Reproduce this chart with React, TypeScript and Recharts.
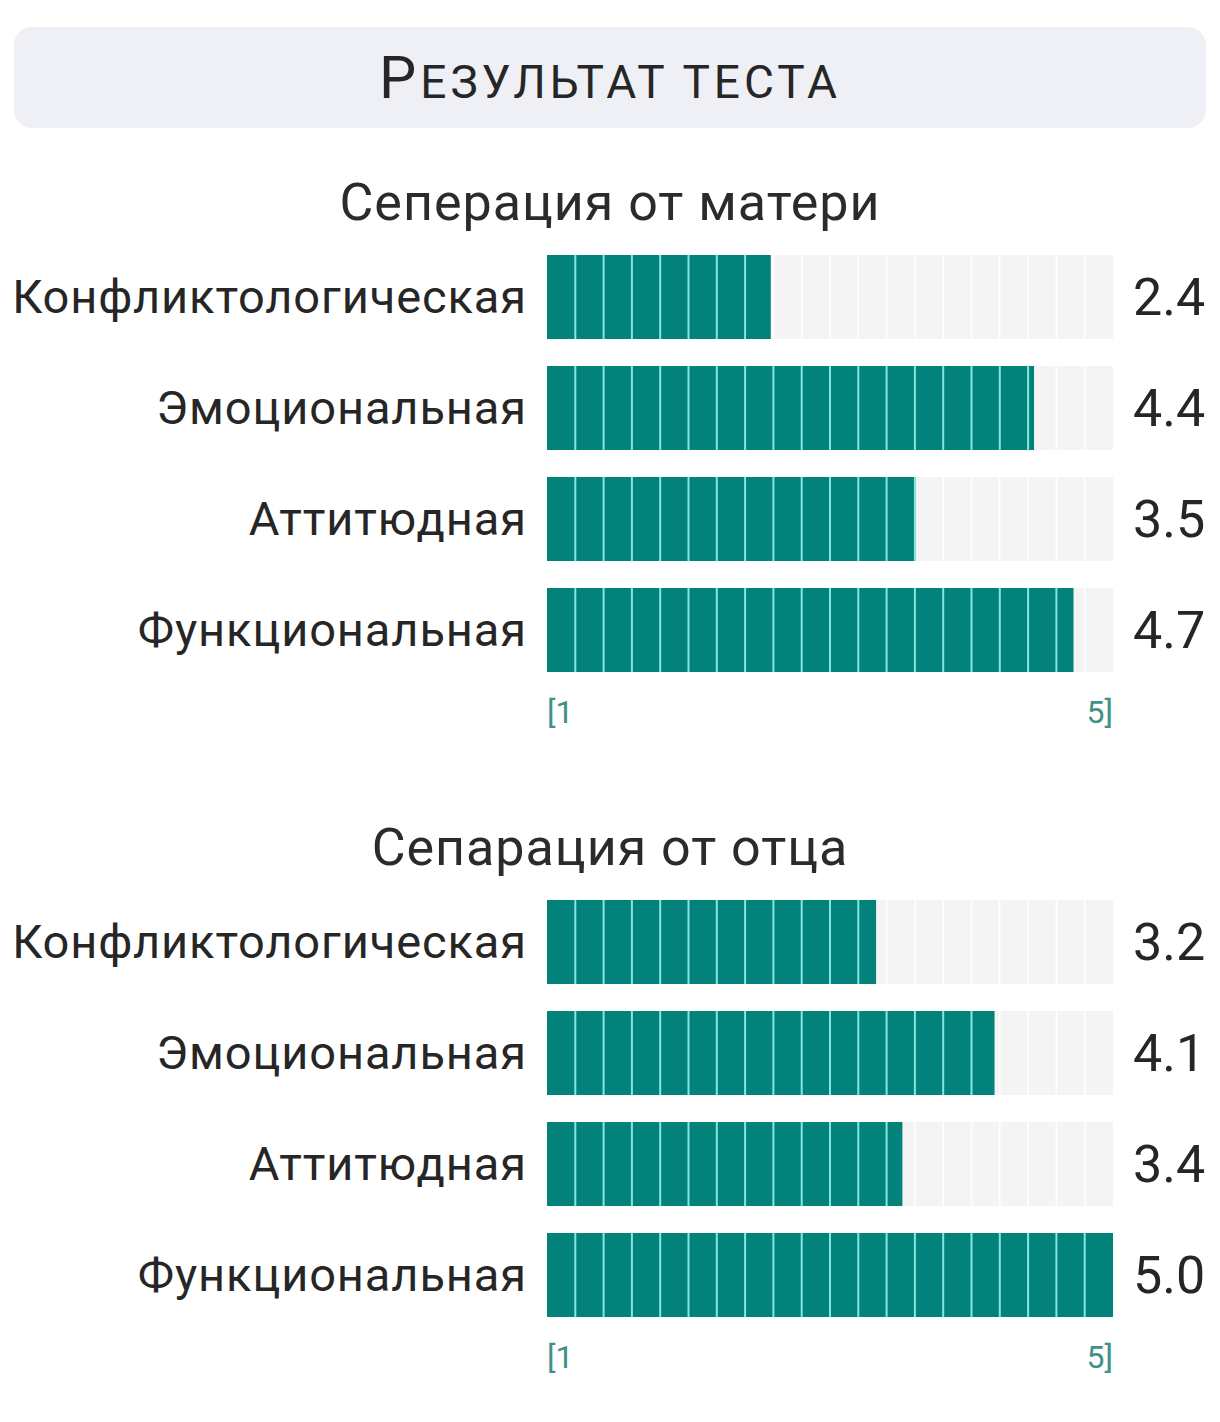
import { BarChart, Bar, XAxis, YAxis } from 'recharts';

// данные теста
const CATEGORIES = ['Конфликтологическая', 'Эмоциональная', 'Аттитюдная', 'Функциональная'];
const MOTHER_VALUES = [2.4, 4.4, 3.5, 4.7];
const FATHER_VALUES = [3.2, 4.1, 3.4, 5.0];
const SECTION_TITLES = ['Сеперация от матери', 'Сепарация от отца'];
const SCALE_LABELS = ['[1', '5]'];

// шкала
const X_MIN = 0.7;
const X_MAX = 5;
const SEGMENTS = 20;

const TEAL = '#02827a';
const SEP = '#86e6dd';
const TRACK = '#f4f4f4';
const FONT = 'Roboto, "Noto Sans", sans-serif';

const buildRows = (values: number[]) =>
  CATEGORIES.map((name, i) => ({ name, value: values[i], valueLabel: values[i].toFixed(1) }));

// сегментированный бар
const SegmentBar = (props: any) => {
  const { x, y, width, height, value } = props;
  const v = Array.isArray(value) ? value[1] : value;
  if (!width || width <= 0) return null;
  const pxPerUnit = width / (v - X_MIN);
  const segW = (pxPerUnit * (X_MAX - X_MIN)) / SEGMENTS;
  const lines = [];
  for (let k = 1; k * segW < width - 0.5; k++) {
    lines.push(
      <line key={k} x1={x + k * segW} x2={x + k * segW} y1={y} y2={y + height} stroke={SEP} strokeWidth={2} />
    );
  }
  return (
    <g>
      <rect x={x} y={y} width={width} height={height} fill={TEAL} />
      {lines}
    </g>
  );
};

// фон дорожки
const Track = (props: any) => {
  const { x, y, width, height } = props;
  const segW = width / SEGMENTS;
  const lines = [];
  for (let k = 1; k < SEGMENTS; k++) {
    lines.push(
      <line key={k} x1={x + k * segW} x2={x + k * segW} y1={y} y2={y + height} stroke="#ffffff" strokeWidth={1.5} />
    );
  }
  return (
    <g>
      <rect x={x} y={y} width={width} height={height} fill={TRACK} />
      {lines}
    </g>
  );
};

const ScaleTick = (props: any) => {
  const { x, y, index } = props;
  return (
    <text
      x={x}
      y={y + 30}
      textAnchor={index === 0 ? 'start' : 'end'}
      fill="#3f9188"
      fontSize={32}
      fontFamily='"Liberation Sans Narrow", Roboto, sans-serif'
    >
      {SCALE_LABELS[index]}
    </text>
  );
};

function Section({ title, values, top }: { title: string; values: number[]; top: number }) {
  const data = buildRows(values);
  return (
    <div style={{ position: 'absolute', left: 0, top, width: 1220 }}>
      <div
        style={{
          height: 70,
          lineHeight: '70px',
          marginTop: -3,
          marginBottom: 3,
          textAlign: 'center',
          fontSize: 52,
          letterSpacing: 1,
          color: '#2b2b2b',
          fontFamily: FONT,
        }}
      >
        {title}
      </div>
      <BarChart
        width={1220}
        height={514}
        data={data}
        layout="vertical"
        margin={{ top: 0, right: 0, bottom: 0, left: 0 }}
        barSize={84}
      >
        <XAxis
          type="number"
          domain={[X_MIN, X_MAX]}
          ticks={[X_MIN, X_MAX]}
          axisLine={false}
          tickLine={false}
          height={70}
          tick={<ScaleTick />}
          interval={0}
        />
        <YAxis
          yAxisId="left"
          type="category"
          dataKey="name"
          width={547}
          axisLine={false}
          tickLine={false}
          tickSize={0}
          tickMargin={20}
          tick={{ fontSize: 47, fill: '#262626', fontFamily: FONT, letterSpacing: 0.9 }}
        />
        <YAxis
          yAxisId="right"
          orientation="right"
          type="category"
          dataKey="valueLabel"
          width={107}
          axisLine={false}
          tickLine={false}
          tickSize={0}
          tickMargin={20}
          tick={{ fontSize: 52, fill: '#262626', fontFamily: FONT }}
        />
        <Bar
          yAxisId="left"
          dataKey="value"
          background={<Track />}
          shape={<SegmentBar />}
          isAnimationActive={false}
        />
      </BarChart>
    </div>
  );
}

export default function App() {
  return (
    <div
      style={{
        position: 'absolute',
        left: 0,
        top: 0,
        width: 1220,
        height: 1422,
        background: '#ffffff',
        fontFamily: FONT,
      }}
    >
      <div
        style={{
          position: 'absolute',
          left: 14,
          top: 27,
          width: 1192,
          height: 101,
          borderRadius: 18,
          background: '#eef0f5',
          display: 'flex',
          alignItems: 'center',
          justifyContent: 'center',
          color: '#262626',
          letterSpacing: 4,
        }}
      >
        <span style={{ fontSize: 59, lineHeight: 1 }}>Р</span>
        <span style={{ fontSize: 46, lineHeight: 1, marginTop: 8 }}>ЕЗУЛЬТАТ ТЕСТА</span>
      </div>
      <Section title={SECTION_TITLES[0]} values={MOTHER_VALUES} top={171} />
      <Section title={SECTION_TITLES[1]} values={FATHER_VALUES} top={816} />
    </div>
  );
}
